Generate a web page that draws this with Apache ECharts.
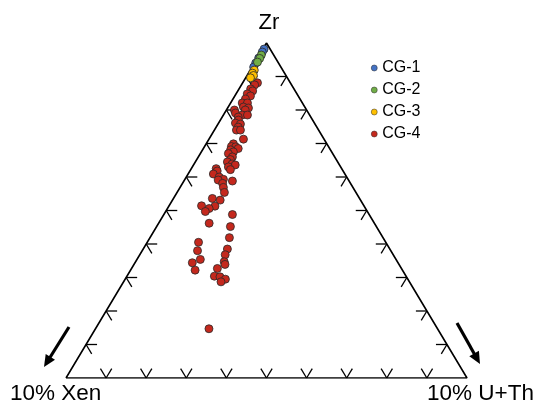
<!DOCTYPE html>
<html>
<head>
<meta charset="utf-8">
<script src="https://cdn.jsdelivr.net/npm/echarts@6/dist/echarts.min.js"></script>
<style>
  html, body { margin: 0; padding: 0; background: #fff; }
  #chart { width: 541px; height: 406px; }
</style>
</head>
<body>
<div id="chart"></div>
<script>
// Ternary compositions, each point as [Zr, Xen, U+Th] in percent
const apexLabels = ['Zr', '10% Xen', '10% U+Th'];
const groupNames = ['CG-1', 'CG-2', 'CG-3', 'CG-4'];
const groupColors = ['#4472c4', '#70ad47', '#ffc000', '#c4281d'];

const cg1 = [
  [98.2, 1.5, 0.3], [97.3, 2.4, 0.3], [95.5, 4.2, 0.3], [94.0, 5.7, 0.3], [92.8, 6.8, 0.4]
];
const cg2 = [
  [96.4, 3.1, 0.5], [95.4, 4.0, 0.6], [94.3, 5.1, 0.6]
];
const cg3 = [
  [91.9, 7.1, 1.0], [91.0, 8.0, 1.0], [90.3, 8.1, 1.6], [89.6, 9.2, 1.2]
];
const cg4 = [
  [88.1, 8.2, 3.7], [87.5, 9.2, 3.3], [86.3, 10.8, 2.9], [85.7, 10.6, 3.7],
  [84.8, 12.4, 2.8], [84.2, 11.9, 3.9], [83.3, 13.6, 3.1], [82.1, 15.0, 2.9],
  [82.1, 13.7, 4.2], [80.9, 15.3, 3.8], [80.6, 14.2, 5.2], [80.0, 15.3, 4.7],
  [80.0, 18.0, 2.0], [79.1, 18.2, 2.7], [78.5, 16.8, 4.7], [78.5, 15.5, 6.0],
  [77.9, 18.1, 4.0], [77.0, 18.5, 4.5], [76.1, 19.7, 4.2], [75.8, 18.6, 5.6],
  [74.9, 19.6, 5.5], [74.0, 20.5, 5.5], [74.0, 19.5, 6.5], [71.3, 20.1, 8.6],
  [69.9, 23.3, 6.8], [69.1, 24.2, 6.7], [69.0, 23.2, 7.8], [68.5, 22.8, 8.7],
  [68.1, 24.9, 7.0], [67.5, 24.5, 8.0], [67.0, 26.0, 7.0], [66.0, 25.5, 8.5],
  [65.2, 26.4, 8.4], [64.5, 27.5, 8.0], [63.9, 26.6, 9.5], [63.6, 26.0, 10.4],
  [63.0, 28.0, 9.0], [62.2, 27.9, 9.9], [62.5, 31.3, 6.2], [61.8, 31.4, 6.8],
  [60.9, 32.8, 6.3], [60.0, 31.8, 8.2], [59.3, 31.1, 9.6], [59.1, 32.5, 8.4],
  [58.8, 29.1, 12.1], [58.1, 31.9, 10.0], [56.9, 32.3, 10.8], [55.4, 32.8, 11.8],
  [53.6, 36.7, 9.7], [53.1, 35.0, 11.9], [51.4, 40.5, 8.1], [51.3, 37.2, 11.5],
  [50.6, 39.0, 10.4], [49.7, 40.4, 9.9], [48.8, 34.1, 17.1], [46.2, 41.2, 12.6],
  [45.2, 36.4, 18.4], [41.9, 38.3, 19.8], [40.5, 46.7, 12.8], [38.5, 40.5, 21.0],
  [38.0, 48.2, 13.8], [36.8, 41.9, 21.3], [35.4, 48.8, 15.8], [34.4, 51.3, 14.3],
  [34.7, 43.2, 22.1], [33.9, 43.4, 22.7], [32.2, 51.7, 16.1], [32.7, 45.9, 21.4],
  [30.4, 47.8, 21.8], [30.2, 46.5, 23.3], [29.5, 45.5, 25.0], [28.7, 47.0, 24.3],
  [14.7, 57.0, 28.3]
];
// Gridline fractions along each side of the triangle
const tickSteps = [0.1, 0.2, 0.3, 0.4, 0.5, 0.6, 0.7, 0.8, 0.9];

// Barycentric -> plane: Zr apex at (0.5, 1), Xen at (0, 0), U+Th at (1, 0)
function toXY(p) {
  const s = p[0] + p[1] + p[2];
  const a = p[0] / s, c = p[2] / s;
  return [c + a / 2, a];
}

const FONT = '"Liberation Sans", Arial, sans-serif';
const chart = echarts.init(document.getElementById('chart'), null, { renderer: 'canvas' });

// tick items: [side, fraction]; side 0 = base, 1 = left, 2 = right
const tickData = [];
[0, 1, 2].forEach(side => tickSteps.forEach(t => tickData.push([side, t])));

function unit(from, to) {
  const dx = to[0] - from[0], dy = to[1] - from[1];
  const l = Math.hypot(dx, dy);
  return [dx / l, dy / l];
}

function renderTick(params, api) {
  const side = api.value(0), t = api.value(1);
  const A = api.coord([0.5, 1]), L = api.coord([0, 0]), R = api.coord([1, 0]);
  let P, d1, d2;
  if (side === 0) {
    P = [L[0] + t * (R[0] - L[0]), L[1] + t * (R[1] - L[1])];
    d1 = unit(L, A); d2 = unit(R, A);
  } else if (side === 1) {
    P = [L[0] + t * (A[0] - L[0]), L[1] + t * (A[1] - L[1])];
    d1 = unit(L, R); d2 = unit(A, R);
  } else {
    P = [R[0] + t * (A[0] - R[0]), R[1] + t * (A[1] - R[1])];
    d1 = unit(R, L); d2 = unit(A, L);
  }
  const len = 11;
  const style = { stroke: '#000', lineWidth: 1.3 };
  return {
    type: 'group',
    children: [
      { type: 'line', shape: { x1: P[0], y1: P[1], x2: P[0] + d1[0] * len, y2: P[1] + d1[1] * len }, style },
      { type: 'line', shape: { x1: P[0], y1: P[1], x2: P[0] + d2[0] * len, y2: P[1] + d2[1] * len }, style }
    ]
  };
}

function arrow(tail, tip) {
  const d = unit(tail, tip);
  const n = [-d[1], d[0]];
  const hl = 12, hw = 5.5;
  const base = [tip[0] - d[0] * hl, tip[1] - d[1] * hl];
  return [
    { type: 'line', shape: { x1: tail[0], y1: tail[1], x2: base[0] + d[0] * 2, y2: base[1] + d[1] * 2 },
      style: { stroke: '#000', lineWidth: 3.2 } },
    { type: 'polygon', shape: { points: [tip, [base[0] + n[0] * hw, base[1] + n[1] * hw], [base[0] - n[0] * hw, base[1] - n[1] * hw]] },
      style: { fill: '#000' } }
  ];
}

const groups = [cg1, cg2, cg3, cg4];
const scatterSeries = groups.map((g, i) => ({
  name: groupNames[i],
  type: 'scatter',
  data: g.map(toXY),
  symbol: 'circle',
  symbolSize: 8,
  z: i === 3 ? 4 : 5,
  itemStyle: { color: groupColors[i], borderColor: '#2a2a2a', borderWidth: 0.8, opacity: 1 }
}));

chart.setOption({
  animation: false,
  backgroundColor: '#fff',
  grid: { left: 66, right: 74, top: 43, bottom: 28, containLabel: false },
  xAxis: { type: 'value', min: 0, max: 1, show: false },
  yAxis: { type: 'value', min: 0, max: 1, show: false },
  legend: {
    data: groupNames,
    orient: 'vertical',
    left: 371,
    top: 60,
    padding: 0,
    icon: 'circle',
    itemWidth: 6,
    itemHeight: 6,
    itemGap: 6,
    itemStyle: { borderWidth: 0.5 },
    textStyle: { fontSize: 16, color: '#000', fontFamily: FONT }
  },
  series: [
    {
      type: 'line',
      data: [[0, 0], [0.5, 1], [1, 0], [0, 0]],
      symbol: 'none',
      silent: true,
      z: 2,
      lineStyle: { color: '#000', width: 1.6 }
    },
    {
      type: 'custom',
      data: tickData,
      renderItem: renderTick,
      silent: true,
      z: 2,
      encode: { x: -1, y: -1 }
    }
  ].concat(scatterSeries),
  graphic: [
    { type: 'text', x: 269, y: 23, style: { text: apexLabels[0], font: '22px ' + FONT, fill: '#000', align: 'center', verticalAlign: 'middle' } },
    { type: 'text', x: 10, y: 394, style: { text: apexLabels[1], font: '22.5px ' + FONT, fill: '#000', align: 'left', verticalAlign: 'middle' } },
    { type: 'text', x: 427, y: 394, style: { text: apexLabels[2], font: '22.5px ' + FONT, fill: '#000', align: 'left', verticalAlign: 'middle' } }
  ].concat(arrow([69, 327], [44, 367]), arrow([457, 323], [480, 364]))
});
</script>
</body>
</html>
